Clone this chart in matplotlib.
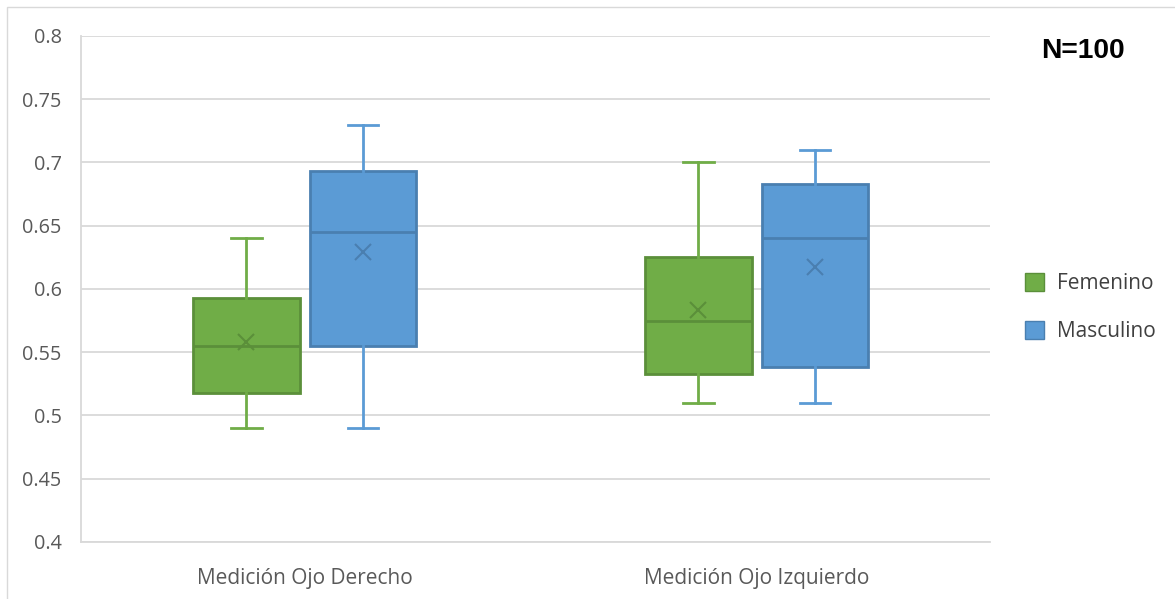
import matplotlib.pyplot as plt
from matplotlib.patches import Patch, Rectangle

categories = ["Medición Ojo Derecho", "Medición Ojo Izquierdo"]
groups = ["Femenino", "Masculino"]

# per group, one value per category
whislo = {"Femenino": [0.49, 0.51], "Masculino": [0.49, 0.51]}
q1 = {"Femenino": [0.518, 0.533], "Masculino": [0.555, 0.538]}
med = {"Femenino": [0.555, 0.575], "Masculino": [0.645, 0.640]}
q3 = {"Femenino": [0.593, 0.625], "Masculino": [0.693, 0.683]}
whishi = {"Femenino": [0.64, 0.70], "Masculino": [0.73, 0.71]}
mean = {"Femenino": [0.558, 0.583], "Masculino": [0.629, 0.617]}

fill = {"Femenino": "#70AD47", "Masculino": "#5B9BD5"}
edge = {"Femenino": "#5B8F3A", "Masculino": "#4A7FB0"}
offset = {"Femenino": -0.129, "Masculino": 0.129}

plt.rcParams['font.family'] = ['Open Sans', 'DejaVu Sans']

fig = plt.figure(figsize=(11.75, 5.99), dpi=100)
ax = fig.add_axes([0.0689, 0.0952, 0.7736, 0.8447])

for g in groups:
    stats = []
    for i in range(len(categories)):
        stats.append({
            "whislo": whislo[g][i], "q1": q1[g][i], "med": med[g][i],
            "q3": q3[g][i], "whishi": whishi[g][i], "mean": mean[g][i],
            "fliers": [],
        })
    pos = [i + 0.5 + offset[g] for i in range(len(categories))]
    ax.bxp(stats, positions=pos, widths=0.235, capwidths=0.068,
           patch_artist=True, showmeans=True, manage_ticks=False,
           boxprops=dict(facecolor=fill[g], edgecolor=edge[g], linewidth=2),
           medianprops=dict(color=edge[g], linewidth=2),
           whiskerprops=dict(color=fill[g], linewidth=2),
           capprops=dict(color=fill[g], linewidth=2),
           meanprops=dict(marker='x', markeredgecolor=edge[g], markersize=12,
                          markeredgewidth=1.5))

ax.set_xlim(0.005, 2.016)
ax.set_ylim(0.4, 0.8)
ax.set_yticks([0.4, 0.45, 0.5, 0.55, 0.6, 0.65, 0.7, 0.75, 0.8])
ax.set_yticklabels(["0.4", "0.45", "0.5", "0.55", "0.6", "0.65", "0.7", "0.75", "0.8"])
ax.set_xticks([0.5, 1.5])
ax.set_xticklabels(categories)
ax.tick_params(axis='both', length=0, labelcolor='#595959')
ax.tick_params(axis='y', pad=14, labelsize=14.3)
ax.tick_params(axis='x', pad=19, labelsize=15)
ax.yaxis.grid(True, color='#D9D9D9', linewidth=1.3)
ax.set_axisbelow(True)
for s in ['top', 'right']:
    ax.spines[s].set_visible(False)
for s in ['left', 'bottom']:
    ax.spines[s].set_color('#D9D9D9')
    ax.spines[s].set_linewidth(1.3)

handles = [Patch(facecolor=fill[g], edgecolor=edge[g], linewidth=1) for g in groups]
fig.legend(handles, groups, loc='center left', bbox_to_anchor=(0.856, 0.487),
           frameon=False, fontsize=15, labelcolor='#404040',
           handlelength=0.95, handleheight=0.95, handletextpad=0.6, labelspacing=1.3)

fig.text(0.9213, 0.915, "N=100", fontsize=20.3, fontweight='bold',
         family='Liberation Sans', ha='center', va='center')

fig.patches.append(Rectangle((0.006, -0.01), 1.0, 0.998, transform=fig.transFigure,
                             fill=False, edgecolor='#D9D9D9', linewidth=1))

fig.savefig("out.png", dpi=100)
